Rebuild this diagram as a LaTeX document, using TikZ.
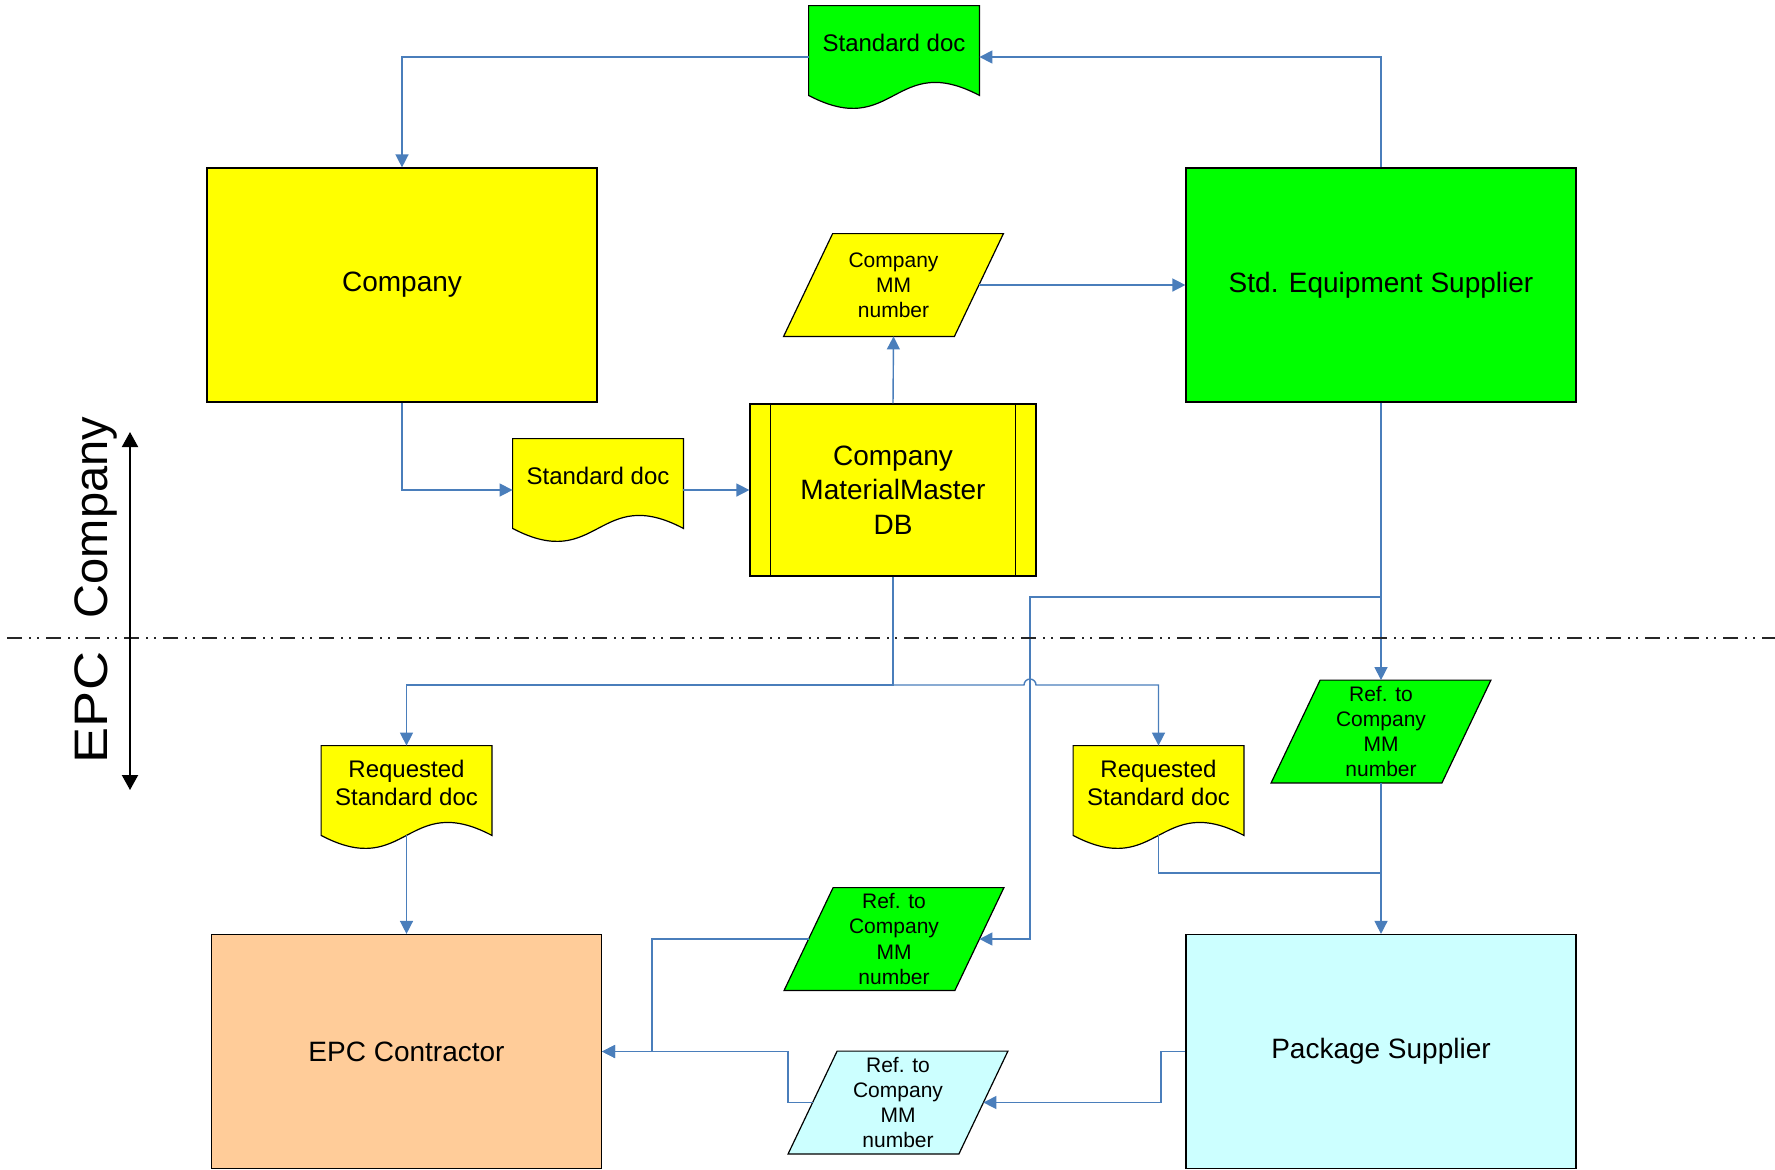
\documentclass[tikz,border=0pt]{standalone}
\usepackage{fontspec}
\setmainfont{Liberation Sans}
\usetikzlibrary{arrows.meta,calc}
\pgfdeclarelayer{bg}
\pgfsetlayers{bg,main}
\definecolor{cyel}{HTML}{FFFF00}
\definecolor{cgreen}{HTML}{00FF00}
\definecolor{ccyan}{HTML}{CCFFFF}
\definecolor{corange}{HTML}{FFCC99}
\definecolor{connblue}{HTML}{4A7EBB}
\begin{document}
\begin{tikzpicture}[x=0.5pt,y=-0.5pt,
  bigbox/.style={rectangle, draw=black, line width=0.6pt, inner sep=0pt,
    minimum width=195pt, minimum height=117pt, align=center,
    font=\fontsize{14}{17.25}\selectfont},
  dbbox/.style={rectangle, draw=black, line width=0.6pt, inner sep=0pt, fill=cyel,
    minimum width=143pt, minimum height=86pt, align=center,
    font=\fontsize{14}{17.25}\selectfont},
  paranode/.style={rectangle, inner sep=0pt, minimum width=85pt, minimum height=51pt,
    align=center, font=\fontsize{10.5}{12.6}\selectfont},
  docnode/.style={rectangle, inner sep=0pt, minimum width=85pt, minimum height=51pt},
  doclbl/.style={yshift=7pt, align=center, inner sep=0pt, font=\fontsize{12}{14}\selectfont},
  shp/.style={draw=black, line width=0.6pt},
  conn/.style={draw=connblue, line width=0.7pt, -{Triangle[length=6.5pt,width=6.5pt]}},
  plainline/.style={draw=connblue, line width=0.7pt},
  sidelbl/.style={rotate=90, inner sep=0pt},
  dashdotdot/.style={draw=black!85, line width=0.9pt,
    dash pattern=on 7.5pt off 3.5pt on 1pt off 3pt on 1pt off 3.5pt}
]
\useasboundingbox (0,0) rectangle (1775,1169);

% main boxes
\node[bigbox, fill=cyel] (company) at (402,285) {Company};
\node[bigbox, fill=cgreen] (stdeq) at (1381,285) {Std. Equipment Supplier};
\node[bigbox, fill=corange] (epc) at (406.5,1051.5) {EPC Contractor};
\node[bigbox, fill=ccyan] (pkg) at (1381,1051.5) {Package Supplier};
\node[dbbox] (db) at (893,490) {Company\\MaterialMaster\\DB};
\draw[shp] ([xshift=10.5pt]db.north west) -- ([xshift=10.5pt]db.south west);
\draw[shp] ([xshift=-10.5pt]db.north east) -- ([xshift=-10.5pt]db.south east);

% parallelograms (data)
\node[paranode] (mmnum) at (893.5,285) {Company\\MM\\number};
\node[paranode] (refr) at (1381,731.5) {Ref. to\\Company\\MM\\number};
\node[paranode] (refm) at (894,939) {Ref. to\\Company\\MM\\number};
\node[paranode] (refc) at (898,1102.5) {Ref. to\\Company\\MM\\number};

% documents
\node[docnode, label={[doclbl]center:Standard doc}] (doctop) at (894,57) {};
\node[docnode, label={[doclbl]center:Standard doc}] (docmid) at (598,490) {};
\node[docnode, label={[doclbl]center:Requested\\Standard doc}] (reql) at (406.5,797) {};
\node[docnode, label={[doclbl]center:Requested\\Standard doc}] (reqr) at (1158.5,797) {};

\begin{pgfonlayer}{bg}
  \foreach \n/\c in {doctop/cgreen, docmid/cyel, reql/cyel, reqr/cyel} {
    \path[shp, fill=\c] (\n.north west) -- (\n.north east) -- ([yshift=6.5pt]\n.south east)
      .. controls ([yshift=29pt]\n.south) and ([yshift=-16pt]\n.south) .. ([yshift=6.5pt]\n.south west) -- cycle;
  }
  \foreach \n/\c in {mmnum/cyel, refr/cgreen, refm/cgreen, refc/ccyan} {
    \path[shp, fill=\c] ([xshift=12.25pt]\n.north west) -- ([xshift=12.25pt]\n.north east)
      -- ([xshift=-12.25pt]\n.south east) -- ([xshift=-12.25pt]\n.south west) -- cycle;
  }
\end{pgfonlayer}

% helper coordinates
\coordinate (split) at (893,685);
\coordinate (hop) at (1024,685);
\coordinate (br) at (1381,597);
\coordinate (bx) at (1030,597);
\coordinate (jn) at (1381,873);
\coordinate (m1) at (652,939);
\coordinate (p1) at (1161,1051.5);
\coordinate (c1) at (788,1102.5);

% connectors
\draw[conn] (stdeq.north) |- (doctop.east);
\draw[conn] (doctop.west) -| (company.north);
\draw[conn] (company.south) |- (docmid.west);
\draw[conn] (docmid.east) -- (db.west);
\draw[conn] (db.north) -- (mmnum.south);
\draw[conn] (mmnum.east) -- (stdeq.west);
\draw[conn] (db.south) -- (split) -| (reql.north);
\draw[conn] (split) -- (hop) arc[start angle=180, end angle=360, radius=6] -| (reqr.north);
\draw[conn] (stdeq.south) -- (refr.north);
\draw[conn] (br) -- (bx) |- (refm.east);
\draw[conn] (refr.south) -- (pkg.north);
\draw[plainline] ([yshift=6.5pt]reqr.south) |- (jn);
\draw[conn] ([yshift=6.5pt]reql.south) -- (epc.north);
\draw[conn] (refm.west) -- (m1) |- (epc.east);
\draw[conn] (pkg.west) -- (p1) |- (refc.east);
\draw[conn] (refc.west) -- (c1) |- (epc.east);

% separation line and side labels
\coordinate (dl) at (7,638);
\coordinate (dr) at (1775,638);
\draw[dashdotdot] (dl) -- (dr);
\coordinate (ltop) at (130,432);
\coordinate (lbot) at (130,790);
\draw[black, line width=1pt, {Triangle[length=7.5pt,width=8pt]}-{Triangle[length=7.5pt,width=8pt]}] (ltop) -- (lbot);
\node[sidelbl, font=\fontsize{23.5}{28}\selectfont] (lblcompany) at (96,517.5) {Company};
\node[sidelbl, font=\fontsize{23.5}{28}\selectfont] (lblepc) at (91,707.5) {\scalebox{1.15}[1]{EPC}};
\end{tikzpicture}
\end{document}
